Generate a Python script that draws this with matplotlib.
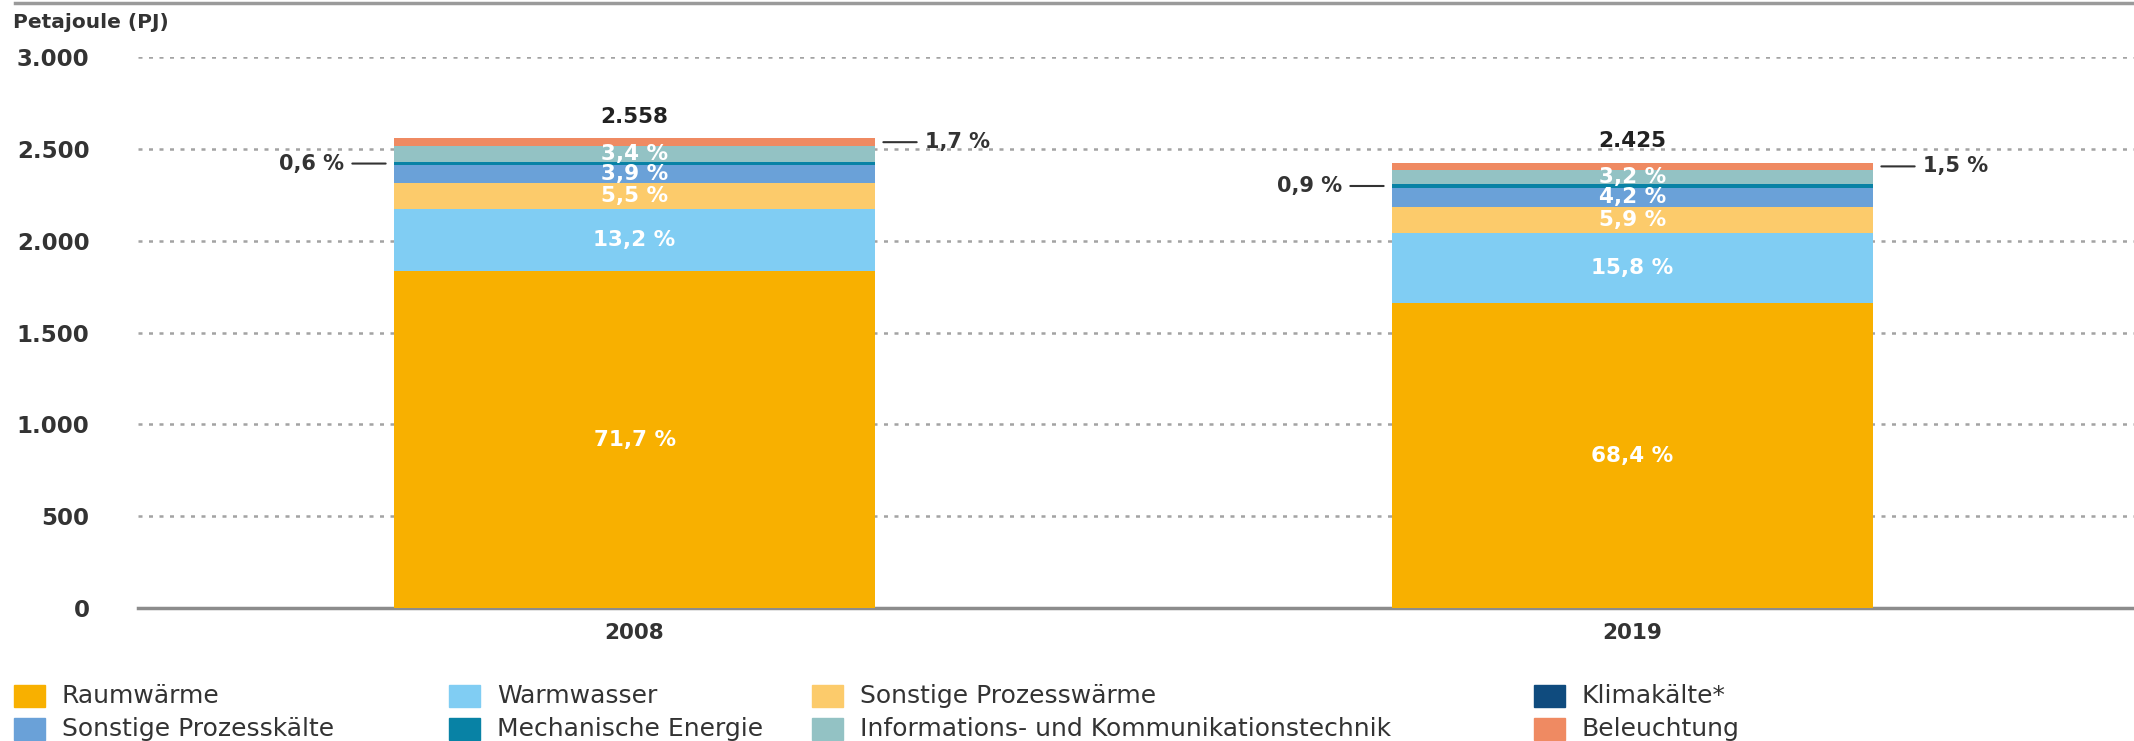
import matplotlib.pyplot as plt
from matplotlib.patches import Rectangle
import numpy as np

plt.rcParams['font.family'] = ['DejaVu Sans']

# -------------------------------------------------
# Data
# -------------------------------------------------
years = ['2008', '2019']
totals = [2558, 2425]          # PJ
total_labels = ['2.558', '2.425']

categories = ['Raumwärme', 'Warmwasser', 'Sonstige Prozesswärme', 'Klimakälte*',
              'Sonstige Prozesskälte', 'Mechanische Energie',
              'Informations- und Kommunikationstechnik', 'Beleuchtung']
colors = ['#F8B000', '#80CDF3', '#FCCB6B', '#0F4B7E',
          '#6AA1D8', '#0882A5', '#93C2C4', '#EF8A62']

# shares in percent, stack order bottom -> top
share_2008 = [71.7, 13.2, 5.5, 0.0, 3.9, 0.6, 3.4, 1.7]
share_2019 = [68.4, 15.8, 5.9, 0.0, 4.2, 0.9, 3.2, 1.5]
labels_2008 = ['71,7 %', '13,2 %', '5,5 %', '', '3,9 %', '0,6 %', '3,4 %', '1,7 %']
labels_2019 = ['68,4 %', '15,8 %', '5,9 %', '', '4,2 %', '0,9 %', '3,2 %', '1,5 %']

yticks = [0, 500, 1000, 1500, 2000, 2500, 3000]
ytick_labels = ['0', '500', '1.000', '1.500', '2.000', '2.500', '3.000']

shares = np.array([share_2008, share_2019])
pct_labels = [labels_2008, labels_2019]
values = shares / 100.0 * np.array(totals)[:, None]

# -------------------------------------------------
# Figure
# -------------------------------------------------
W, H = 2134, 741
fig = plt.figure(figsize=(W / 100, H / 100), dpi=100)
ax = fig.add_axes([138 / W, 1 - 608 / H, 1 - 138 / W, (608 - 57) / H])

x = np.arange(len(years))
bw = 0.482
text_dark = '#333333'

bottoms = np.zeros(len(years))
for j, cat in enumerate(categories):
    ax.bar(x, values[:, j], bw, bottom=bottoms, color=colors[j], zorder=3)
    for i in range(len(years)):
        lab = pct_labels[i][j]
        yc = bottoms[i] + values[i, j] / 2
        if cat == 'Mechanische Energie':
            ax.annotate(lab, xy=(x[i] - bw / 2, yc), xytext=(-36, 0),
                        textcoords='offset points', ha='right', va='center',
                        fontsize=15, fontweight='bold', color=text_dark,
                        arrowprops=dict(arrowstyle='-', color=text_dark, lw=1.5,
                                        shrinkA=4, shrinkB=6))
        elif cat == 'Beleuchtung':
            ax.annotate(lab, xy=(x[i] + bw / 2, yc), xytext=(36, 0),
                        textcoords='offset points', ha='left', va='center',
                        fontsize=15, fontweight='bold', color=text_dark,
                        arrowprops=dict(arrowstyle='-', color=text_dark, lw=1.5,
                                        shrinkA=4, shrinkB=6))
        elif lab:
            ax.text(x[i], yc, lab, ha='center', va='center', color='white',
                    fontsize=15.5, fontweight='bold', zorder=4)
    bottoms += values[:, j]

for i in range(len(years)):
    ax.annotate(total_labels[i], xy=(x[i], totals[i]), xytext=(0, 8),
                textcoords='offset points', ha='center', va='bottom',
                fontsize=15.5, fontweight='bold', color='#222222')

ax.set_xlim(-0.4975, 1.5025)
ax.set_ylim(0, 3000)
ax.set_yticks(yticks)
ax.set_yticklabels(ytick_labels, fontsize=16.5, fontweight='bold', color=text_dark)
ax.set_xticks(x)
ax.set_xticklabels(years, fontsize=15.5, fontweight='bold', color=text_dark)
ax.tick_params(axis='y', length=0, pad=35)
ax.tick_params(axis='x', length=0, pad=11)
for s in ax.spines.values():
    s.set_visible(False)
ax.yaxis.grid(True, linestyle=(0, (1.6, 2.6)), color='#a3a3a3', lw=1.8, zorder=0)
ax.axhline(0, color='#8c8c8c', lw=2.5, zorder=2, clip_on=False)
ax.set_axisbelow(True)

# top rule and unit label
fig.add_artist(plt.Line2D([15 / W, 1], [1 - 3 / H, 1 - 3 / H], color='#9a9a9a', lw=2.5))
fig.text(13 / W, 1 - 22 / H, 'Petajoule (PJ)', ha='left', va='center',
         fontsize=14.5, fontweight='bold', color=text_dark)

# -------------------------------------------------
# Legend (4 columns, 2 rows)
# -------------------------------------------------
col_x = [14, 449, 812, 1534]
row_y = [696, 729]
for k, cat in enumerate(categories):
    r, c = divmod(k, 4)
    x0, y0 = col_x[c], row_y[r]
    fig.add_artist(Rectangle((x0 / W, 1 - (y0 + 11) / H), 31 / W, 22 / H,
                             transform=fig.transFigure, color=colors[k]))
    fig.text((x0 + 48) / W, 1 - y0 / H, cat, ha='left', va='center',
             fontsize=18, color=text_dark)

fig.savefig('out.png', dpi=100)
